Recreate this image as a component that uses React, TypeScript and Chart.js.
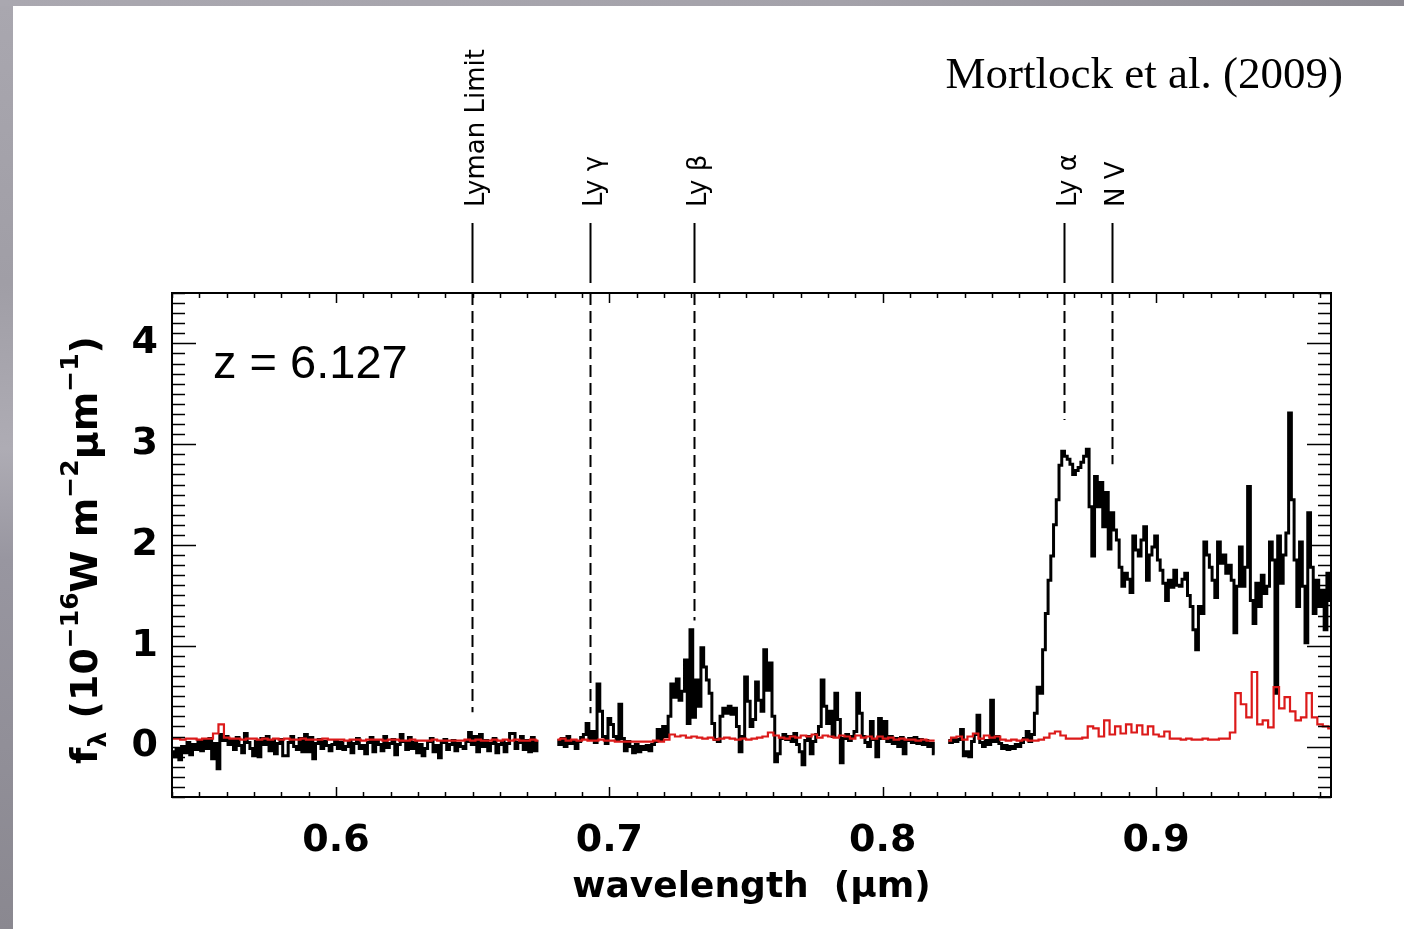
import { useEffect, useRef } from "react";
import { Chart, registerables } from "chart.js";

Chart.register(...registerables);

// ---- axis set-up -----------------------------------------------------------
const WL_MIN = 0.54;
const WL_MAX = 0.964;
const FLUX_MIN = -0.5;
const FLUX_MAX = 4.5;
const X_TICKS = [0.6, 0.7, 0.8, 0.9];
const Y_TICKS = [0, 1, 2, 3, 4];
const X_MINOR_STEP = 0.01;
const Y_MINOR_STEP = 0.1;

// ---- spectrum: three detector segments, sampled on a regular grid ----------
const SEGMENT_STARTS = [0.54, 0.681, 0.824];
const FLUX_STEP = 0.001;
const NOISE_STEP = 0.002;

// object flux, 10^-16 W m^-2 um^-1
const fluxSeg1 = [
  -0.05, -0.1, -0.02, -0.13, 0.0, -0.06, 0.04, -0.08, 0.02, -0.03,
  0.05, -0.04, 0.06, -0.02, 0.08, -0.12, 0.03, -0.22, 0.12, 0.06,
  0.1, 0.02, 0.07, -0.03, 0.09, 0.01, -0.06, 0.13, 0.04, -0.02,
  -0.09, 0.05, -0.1, 0.08, 0.02, 0.1, -0.04, 0.06, -0.07, 0.03,
  0.07, -0.09, -0.09, 0.04, 0.1, 0.0, -0.03, 0.08, -0.05, 0.12,
  -0.05, 0.09, -0.12, 0.03, 0.07, -0.02, 0.05, 0.01, -0.04, 0.02,
  0.06, -0.02, 0.04, -0.03, 0.0, 0.05, -0.06, 0.03, 0.08, -0.02,
  0.01, -0.07, 0.04, 0.09, -0.05, 0.06, 0.02, -0.04, 0.1, -0.01,
  0.03, 0.07, -0.08, 0.02, 0.12, 0.05, -0.03, 0.09, -0.02, 0.04,
  -0.06, 0.02, -0.09, -0.02, 0.05, 0.08, -0.05, 0.01, -0.11, 0.04,
  0.07, -0.03, 0.02, 0.06, -0.04, 0.03, 0.0, -0.02, 0.05, 0.14,
  0.02, 0.1, -0.05, 0.12, 0.0, 0.06, -0.04, 0.03, 0.08, -0.06,
  0.02, 0.05, -0.05, 0.03, 0.13, 0.13, -0.02, 0.04, 0.1, -0.03,
  0.06, -0.05, 0.09, -0.04, 0.05,
];

const fluxSeg2 = [
  0.06, 0.02, 0.08, 0.0, 0.1, 0.03, 0.06, -0.02, 0.05, 0.09,
  0.12, 0.23, 0.08, 0.15, 0.04, 0.62, 0.35, 0.1, 0.03, 0.28,
  0.22, 0.1, 0.06, 0.42, 0.08, -0.04, 0.05, 0.0, -0.06, 0.02,
  -0.05, 0.0, -0.03, 0.01, -0.04, 0.02, 0.05, 0.17, 0.06, 0.2,
  0.1, 0.3, 0.62, 0.49, 0.67, 0.46, 0.55, 0.86, 0.23, 1.16,
  0.29, 0.66, 0.4, 0.98, 0.79, 0.66, 0.53, 0.23, 0.07, 0.05,
  0.3, 0.38, 0.33, 0.4, 0.32, 0.38, 0.2, -0.05, 0.1, 0.69,
  0.45, 0.2, 0.27, 0.64, 0.46, 0.35, 0.96, 0.56, 0.83, 0.3,
  -0.15, -0.07, 0.08, 0.12, 0.07, 0.1, 0.05, 0.13, 0.02, -0.05,
  -0.18, 0.06, 0.1, -0.07, 0.05, 0.12, 0.2, 0.66, 0.4, 0.23,
  0.35, 0.1, 0.53, 0.27, -0.16, 0.08, 0.12, 0.06, 0.1, 0.15,
  0.53, 0.33, 0.1, 0.04, 0.0, 0.25, 0.07, -0.1, 0.28, 0.08,
  0.25, 0.05, 0.1, 0.03, 0.08, 0.0, 0.09, -0.07, 0.06, 0.08,
  0.04, 0.09, 0.03, 0.07, 0.02, 0.06, 0.0, 0.03, -0.07,
];

const fluxSeg3 = [
  0.06, 0.04, 0.08, 0.05, 0.07, 0.17, -0.09,
  -0.05, -0.1, 0.05, 0.12, 0.31, 0.04, 0.0, 0.06, 0.02, 0.46,
  0.05, 0.1, 0.03, -0.02, 0.01, -0.03, 0.0, -0.02, 0.02, 0.0,
  0.04, 0.08, 0.15, 0.05, 0.12, 0.33, 0.59, 0.53, 0.96, 1.32,
  1.65, 1.89, 2.2, 2.45, 2.79, 2.93, 2.88, 2.85, 2.8, 2.7,
  2.74, 2.77, 2.82, 2.88, 2.95, 2.38, 1.89, 2.68, 2.38, 2.62,
  2.18, 2.52, 1.96, 2.32, 2.15, 2.05, 1.78, 1.59, 1.72, 1.66,
  1.53, 2.09, 1.95, 1.89, 2.05, 2.18, 1.65, 1.9, 1.98, 2.09,
  1.85, 1.75, 1.62, 1.45, 1.65, 1.58, 1.75, 1.6, 1.59, 1.66,
  1.72, 1.5, 1.39, 1.16, 0.96, 1.39, 1.32, 2.03, 1.9, 1.78,
  1.65, 1.48, 2.03, 1.82, 1.9, 1.72, 1.8, 1.65, 1.13, 1.59,
  1.98, 1.59, 1.78, 2.58, 1.45, 1.22, 1.62, 1.39, 1.7, 1.52,
  1.59, 2.03, 1.85, 0.53, 2.09, 1.62, 1.9, 2.12, 3.31, 2.45,
  1.85, 1.39, 2.03, 1.59, 1.03, 2.32, 1.78, 1.32, 1.65, 1.39,
  1.55, 1.16, 1.72, 1.45,
];

// 1-sigma noise spectrum
const noiseSeg1 = [
  0.08, 0.08, 0.07, 0.08, 0.08, 0.07, 0.08, 0.08, 0.13, 0.22,
  0.09, 0.08, 0.08, 0.07, 0.08, 0.08, 0.07, 0.08, 0.07, 0.08,
  0.07, 0.08, 0.07, 0.07, 0.08, 0.07, 0.07, 0.07, 0.08, 0.07,
  0.07, 0.07, 0.06, 0.07, 0.07, 0.06, 0.07, 0.07, 0.07, 0.06,
  0.07, 0.07, 0.06, 0.06, 0.07, 0.06, 0.06, 0.06, 0.07, 0.06,
  0.06, 0.06, 0.06, 0.06, 0.07, 0.06, 0.07, 0.06, 0.06, 0.07,
  0.06, 0.07, 0.06, 0.07, 0.06, 0.06, 0.07, 0.06,
];

const noiseSeg2 = [
  0.07, 0.08, 0.06, 0.07, 0.06, 0.07, 0.06, 0.06, 0.07, 0.06,
  0.06, 0.05, 0.05, 0.05, 0.05, 0.05, 0.05, 0.05, 0.06, 0.05,
  0.07, 0.12, 0.1, 0.11, 0.09, 0.1, 0.09, 0.08, 0.09, 0.07,
  0.08, 0.09, 0.08, 0.07, 0.08, 0.07, 0.08, 0.09, 0.1, 0.14,
  0.11, 0.09, 0.08, 0.1, 0.09, 0.11, 0.1, 0.12, 0.09, 0.11,
  0.1, 0.09, 0.11, 0.1, 0.08, 0.11, 0.09, 0.1, 0.08, 0.1,
  0.08, 0.09, 0.07, 0.08, 0.07, 0.07, 0.06, 0.07, 0.06, 0.06,
];

const noiseSeg3 = [
  0.06, 0.09, 0.1, 0.07, 0.1, 0.13, 0.08, 0.11, 0.09, 0.1,
  0.07, 0.06, 0.07, 0.06, 0.07, 0.06, 0.06, 0.07, 0.09, 0.13,
  0.15, 0.11, 0.08, 0.08, 0.08, 0.09, 0.2, 0.18, 0.1, 0.26,
  0.12, 0.2, 0.13, 0.22, 0.14, 0.21, 0.12, 0.2, 0.12, 0.1,
  0.15, 0.08, 0.08, 0.07, 0.08, 0.07, 0.07, 0.08, 0.07, 0.07,
  0.08, 0.08, 0.14, 0.53, 0.42, 0.29, 0.74, 0.22, 0.26, 0.19,
  0.59, 0.38, 0.49, 0.35, 0.26, 0.29, 0.53, 0.29, 0.22, 0.2,
  0.18,
];

// ---- rest-frame features at the quasar redshift ------------------------------
const REDSHIFT_LABEL = "z = 6.127";
const CITATION = "Mortlock et al. (2009)";
const LINE_WAVELENGTHS = [0.6499, 0.6931, 0.731, 0.8664, 0.8838];
const LINE_LABELS = ["Lyman Limit", "Ly γ", "Ly β", "Ly α", "N V"];
const LINE_DASH_END = [0.34, 0.33, 1.25, 3.24, 2.8];

const X_TITLE = "wavelength  (μm)";

type Pt = { x: number; y: number | null };

function buildSeries(segments: number[][], step: number): Pt[] {
  const pts: Pt[] = [];
  segments.forEach((seg, s) => {
    const start = SEGMENT_STARTS[s];
    if (s > 0) {
      const prevEnd = SEGMENT_STARTS[s - 1] + (segments[s - 1].length - 1) * step;
      pts.push({ x: (prevEnd + start) / 2, y: null });
    }
    seg.forEach((v, i) => pts.push({ x: +(start + i * step).toFixed(4), y: v }));
  });
  return pts;
}

const TICK_FONT = '"DejaVu Sans", sans-serif';

const decorPlugin = {
  id: "spectrumDecor",
  afterDatasetsDraw(chart: any) {
    const { ctx, chartArea, scales } = chart;
    const { left, right, top, bottom } = chartArea;
    const xs = scales.x;
    const ys = scales.y;
    ctx.save();

    // feature markers: dashed inside the frame, solid stub above it
    ctx.strokeStyle = "#000";
    ctx.lineWidth = 2;
    ctx.setLineDash([12, 6]);
    LINE_WAVELENGTHS.forEach((wl, i) => {
      const px = Math.round(xs.getPixelForValue(wl)) + 0.5;
      ctx.beginPath();
      ctx.moveTo(px, top);
      ctx.lineTo(px, ys.getPixelForValue(LINE_DASH_END[i]));
      ctx.stroke();
    });
    ctx.setLineDash([]);
    LINE_WAVELENGTHS.forEach((wl, i) => {
      const px = Math.round(xs.getPixelForValue(wl)) + 0.5;
      ctx.beginPath();
      ctx.moveTo(px, top - 70);
      ctx.lineTo(px, top - 10);
      ctx.stroke();
      ctx.save();
      ctx.translate(px + 11, top - 86);
      ctx.rotate(-Math.PI / 2);
      ctx.font = '26px "DejaVu Sans"';
      ctx.fillStyle = "#000";
      ctx.textAlign = "left";
      ctx.textBaseline = "alphabetic";
      ctx.fillText(LINE_LABELS[i], 0, 0);
      ctx.restore();
    });

    // frame
    ctx.lineWidth = 2;
    ctx.strokeRect(left, top, right - left, bottom - top);

    // x ticks (bottom and top, pointing inward)
    ctx.lineWidth = 1.5;
    ctx.beginPath();
    const nx0 = Math.ceil(WL_MIN / X_MINOR_STEP - 1e-6);
    const nx1 = Math.floor(WL_MAX / X_MINOR_STEP + 1e-6);
    for (let k = nx0; k <= nx1; k++) {
      const v = k * X_MINOR_STEP;
      const major = X_TICKS.some((t) => Math.abs(t - v) < 1e-6);
      const len = major ? 10 : 5;
      const px = Math.round(xs.getPixelForValue(v)) + 0.5;
      ctx.moveTo(px, bottom);
      ctx.lineTo(px, bottom - len);
      ctx.moveTo(px, top);
      ctx.lineTo(px, top + len);
    }
    // y ticks (left and right, pointing inward)
    const ny0 = Math.ceil(FLUX_MIN / Y_MINOR_STEP - 1e-6);
    const ny1 = Math.floor(FLUX_MAX / Y_MINOR_STEP + 1e-6);
    for (let k = ny0; k <= ny1; k++) {
      const v = k * Y_MINOR_STEP;
      const major = Y_TICKS.some((t) => Math.abs(t - v) < 1e-6);
      const len = major ? 24 : 13;
      const py = Math.round(ys.getPixelForValue(v)) + 0.5;
      ctx.moveTo(left, py);
      ctx.lineTo(left + len, py);
      ctx.moveTo(right, py);
      ctx.lineTo(right - len, py);
    }
    ctx.stroke();

    // redshift annotation
    ctx.fillStyle = "#000";
    ctx.font = '47px "Liberation Sans", Arial, sans-serif';
    ctx.textAlign = "left";
    ctx.textBaseline = "alphabetic";
    ctx.fillText(REDSHIFT_LABEL, 213, 378);

    // citation
    ctx.font = '45px "Liberation Serif", serif';
    ctx.textAlign = "right";
    ctx.fillText(CITATION, 1343, 88);

    // y-axis title with sub/superscripts, rotated
    const big = `bold 38px ${TICK_FONT}`;
    const small = `bold 25px ${TICK_FONT}`;
    const parts = [
      { t: "f", f: big, dy: 0 },
      { t: "λ", f: small, dy: 9 },
      { t: " (10", f: big, dy: 0 },
      { t: "−16", f: small, dy: -19 },
      { t: "W m", f: big, dy: 0 },
      { t: "−2", f: small, dy: -19 },
      { t: "μm", f: big, dy: 0 },
      { t: "−1", f: small, dy: -19 },
      { t: ")", f: big, dy: 0 },
    ];
    let total = 0;
    const widths = parts.map((p) => {
      ctx.font = p.f;
      const w = ctx.measureText(p.t).width;
      total += w;
      return w;
    });
    ctx.save();
    ctx.translate(97, 550);
    ctx.rotate(-Math.PI / 2);
    ctx.textAlign = "left";
    let cx = -total / 2;
    parts.forEach((p, i) => {
      ctx.font = p.f;
      ctx.fillText(p.t, cx, p.dy);
      cx += widths[i];
    });
    ctx.restore();

    ctx.restore();
  },
};

export default function App() {
  const canvasRef = useRef<HTMLCanvasElement | null>(null);

  useEffect(() => {
    const canvas = canvasRef.current;
    if (!canvas) return;
    const flux = buildSeries([fluxSeg1, fluxSeg2, fluxSeg3], FLUX_STEP);
    const noise = buildSeries([noiseSeg1, noiseSeg2, noiseSeg3], NOISE_STEP);

    const chart = new Chart(canvas, {
      type: "line",
      data: {
        datasets: [
          {
            label: "noise",
            data: noise,
            borderColor: "#dc1a1a",
            borderWidth: 2.2,
            pointRadius: 0,
            stepped: "middle",
            spanGaps: false,
            order: 0,
          },
          {
            label: "flux",
            data: flux,
            borderColor: "#000",
            borderWidth: 3,
            pointRadius: 0,
            stepped: "middle",
            spanGaps: false,
            order: 1,
          },
        ],
      },
      options: {
        animation: false,
        responsive: true,
        maintainAspectRatio: false,
        layout: { padding: { left: 0, top: 293, right: 73, bottom: 0 } },
        plugins: {
          legend: { display: false },
          tooltip: { enabled: false },
        },
        scales: {
          x: {
            type: "linear",
            min: WL_MIN,
            max: WL_MAX,
            grid: { display: false, drawTicks: false },
            border: { display: false },
            afterBuildTicks: (scale: any) => {
              scale.ticks = X_TICKS.map((v) => ({ value: v }));
            },
            afterFit: (scale: any) => {
              scale.height = 132;
            },
            ticks: {
              padding: 21,
              color: "#000",
              font: { family: TICK_FONT, size: 38, weight: "bold" },
              callback: (v: any) => Number(v).toFixed(1),
              maxRotation: 0,
            },
            title: {
              display: true,
              text: X_TITLE,
              color: "#000",
              font: { family: TICK_FONT, size: 36, weight: "bold" },
              padding: { top: 0, bottom: 20 },
            },
          },
          y: {
            type: "linear",
            min: FLUX_MIN,
            max: FLUX_MAX,
            grid: { display: false, drawTicks: false },
            border: { display: false },
            afterBuildTicks: (scale: any) => {
              scale.ticks = Y_TICKS.map((v) => ({ value: v }));
            },
            afterFit: (scale: any) => {
              scale.width = 172;
            },
            ticks: {
              padding: 14,
              color: "#000",
              font: { family: TICK_FONT, size: 38, weight: "bold" },
              callback: (v: any) => String(v),
            },
          },
        },
      },
      plugins: [decorPlugin],
    });
    return () => chart.destroy();
  }, []);

  return (
    <div
      style={{
        position: "fixed",
        left: 0,
        top: 0,
        width: 1404,
        height: 929,
        background:
          "linear-gradient(90deg, #aaa8b0 0%, #a4a2aa 60%, #8c8a92 100%)",
        overflow: "hidden",
      }}
    >
      <div
        style={{
          position: "absolute",
          left: 0,
          top: 6,
          width: 13,
          height: 923,
          background:
            "linear-gradient(180deg, #a9a7af 0%, #a09ea6 30%, #aeacb4 48%, #9896a0 60%, #8a8890 100%)",
        }}
      />
      <div
        style={{
          position: "absolute",
          left: 13,
          top: 6,
          right: 0,
          bottom: 0,
          background: "#fff",
        }}
      />
      <div style={{ position: "absolute", left: 0, top: 0, width: 1404, height: 929 }}>
        <canvas ref={canvasRef} />
      </div>
    </div>
  );
}
